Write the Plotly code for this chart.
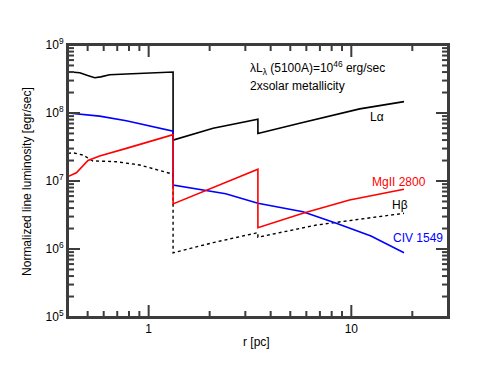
import math
import plotly.graph_objects as go

# radius [pc] and normalized line luminosity [erg/sec]
r_lya = [0.40, 0.457, 0.50, 0.542, 0.58, 0.642, 0.776, 1.0, 1.32, 1.32, 2.08, 3.46, 3.46, 5.56, 11.0, 18.2]
L_lya = [4.05e8, 3.9e8, 3.55e8, 3.3e8, 3.4e8, 3.66e8, 3.74e8, 3.85e8, 4.0e8, 4.0e7, 5.96e7, 8.1e7, 5.0e7, 7.05e7, 1.15e8, 1.47e8]

r_civ = [0.40, 0.573, 0.776, 1.0, 1.32, 1.32, 2.4, 3.46, 5.77, 8.43, 12.5, 18.2]
L_civ = [1.0e8, 9.0e7, 7.7e7, 6.5e7, 5.4e7, 8.7e6, 6.5e6, 4.7e6, 3.54e6, 2.39e6, 1.55e6, 8.8e5]

r_mg = [0.40, 0.44, 0.502, 0.573, 0.776, 0.974, 1.32, 1.32, 3.46, 3.46, 5.77, 9.8, 18.2]
L_mg = [1.16e7, 1.32e7, 2.0e7, 2.33e7, 3.02e7, 3.66e7, 4.8e7, 4.6e6, 1.49e7, 2.06e6, 3.35e6, 5.25e6, 7.55e6]

r_hb = [0.40, 0.423, 0.474, 0.531, 0.62, 0.693, 0.903, 1.32, 1.32, 2.08, 3.46, 3.46, 6.72, 18.2]
L_hb = [2.55e7, 2.6e7, 2.41e7, 1.97e7, 1.95e7, 1.92e7, 1.72e7, 1.26e7, 8.8e5, 1.24e6, 1.74e6, 1.49e6, 2.25e6, 3.35e6]

# tick labels / tick values
x_major = [1, 10]
x_major_text = ['1', '10']
x_minor = [0.5, 0.6, 0.7, 0.8, 0.9, 2, 3, 4, 5, 6, 7, 8, 9, 20]
y_major = [1e5, 1e6, 1e7, 1e8, 1e9]
y_major_text = ['10<sup>5</sup>', '10<sup>6</sup>', '10<sup>7</sup>', '10<sup>8</sup>', '10<sup>9</sup>']
y_minor = [k * 10 ** n for n in range(5, 9) for k in range(2, 10)]

x_range = [0.4, 30]
y_range = [1e5, 1e9]

axis_col = '#3c3c3c'
font = dict(family='Liberation Sans, Arial, sans-serif', size=12, color='black')
W, H = 498, 385
margin = dict(l=68, r=50, t=45, b=68)
plot_w = W - margin['l'] - margin['r']
plot_h = H - margin['t'] - margin['b']
lx = [math.log10(v) for v in x_range]
ly = [math.log10(v) for v in y_range]

fig = go.Figure()
# drawing order: Hbeta, Lya, CIV, MgII (red sits on top at the jumps)
fig.add_trace(go.Scatter(x=r_hb, y=L_hb, mode='lines',
                         line=dict(color='black', width=1.4, dash='dot')))
fig.add_trace(go.Scatter(x=r_lya, y=L_lya, mode='lines',
                         line=dict(color='black', width=1.6)))
fig.add_trace(go.Scatter(x=r_civ, y=L_civ, mode='lines',
                         line=dict(color='#0000ff', width=1.6)))
fig.add_trace(go.Scatter(x=r_mg, y=L_mg, mode='lines',
                         line=dict(color='#ff0000', width=1.6)))


def tick_trace(xs, ys):
    return go.Scatter(x=xs, y=ys, mode='lines', hoverinfo='skip', cliponaxis=False,
                      line=dict(color=axis_col, width=2))


# inward tick marks on all four sides (pixel length -> factor in log units)
for vals, length in ((x_major, 12), (x_minor, 6)):
    k = 10 ** (length * (ly[1] - ly[0]) / plot_h)
    xs, ys = [], []
    for v in vals:
        xs += [v, v, None, v, v, None]
        ys += [y_range[0], y_range[0] * k, None, y_range[1], y_range[1] / k, None]
    fig.add_trace(tick_trace(xs, ys))
for vals, length in ((y_major, 12), (y_minor, 6)):
    k = 10 ** (length * (lx[1] - lx[0]) / plot_w)
    xs, ys = [], []
    for v in vals:
        xs += [x_range[0], x_range[0] * k, None, x_range[1], x_range[1] / k, None]
        ys += [v, v, None, v, v, None]
    fig.add_trace(tick_trace(xs, ys))

axis_common = dict(
    showgrid=False, zeroline=False,
    showline=True, linecolor=axis_col, linewidth=2, mirror=True,
    ticks='', tickfont=font,
)
fig.update_xaxes(type='log', range=lx,
                 tickmode='array', tickvals=x_major, ticktext=x_major_text,
                 **axis_common)
fig.update_yaxes(type='log', range=ly,
                 tickmode='array', tickvals=y_major, ticktext=y_major_text,
                 **axis_common)

# frame
fig.add_shape(type='rect', xref='paper', yref='paper', x0=0, x1=1, y0=0, y1=1,
              line=dict(color=axis_col, width=2), layer='above')

labels = [
    dict(x=0.4745, y=0.914, text='λL<sub>λ</sub> (5100A)=10<sup>46</sup> erg/sec', xanchor='left', color='black'),
    dict(x=0.4745, y=0.850, text='2xsolar metallicity', xanchor='left', color='black'),
    dict(x=0.813, y=0.734, text='Lα', xanchor='center', color='black'),
    dict(x=0.872, y=0.497, text='MgII 2800', xanchor='center', color='#ff0000'),
    dict(x=0.874, y=0.412, text='Hβ', xanchor='center', color='black'),
    dict(x=0.920, y=0.289, text='CIV 1549', xanchor='center', color='#0000ff'),
]
for lab in labels:
    fig.add_annotation(x=lab['x'], y=lab['y'], xref='paper', yref='paper',
                       text=lab['text'], showarrow=False, xanchor=lab['xanchor'],
                       yanchor='middle', font=dict(font, color=lab['color']))

# axis titles
fig.add_annotation(x=0.497, y=-0.091, xref='paper', yref='paper', text='r [pc]',
                   showarrow=False, xanchor='center', yanchor='middle', font=font)
fig.add_annotation(x=-0.108, y=0.5, xref='paper', yref='paper',
                   text='Normalized line luminosity [egr/sec]', textangle=-90,
                   showarrow=False, xanchor='center', yanchor='middle', font=font)

fig.update_layout(
    width=W, height=H,
    margin=margin,
    paper_bgcolor='white', plot_bgcolor='white',
    showlegend=False,
    font=font,
)

# page body has a default 8px margin; drop it so the figure sits at the origin
fig.write_html("out.html", config={'displayModeBar': False},
               post_script="document.body.style.margin='0';")
